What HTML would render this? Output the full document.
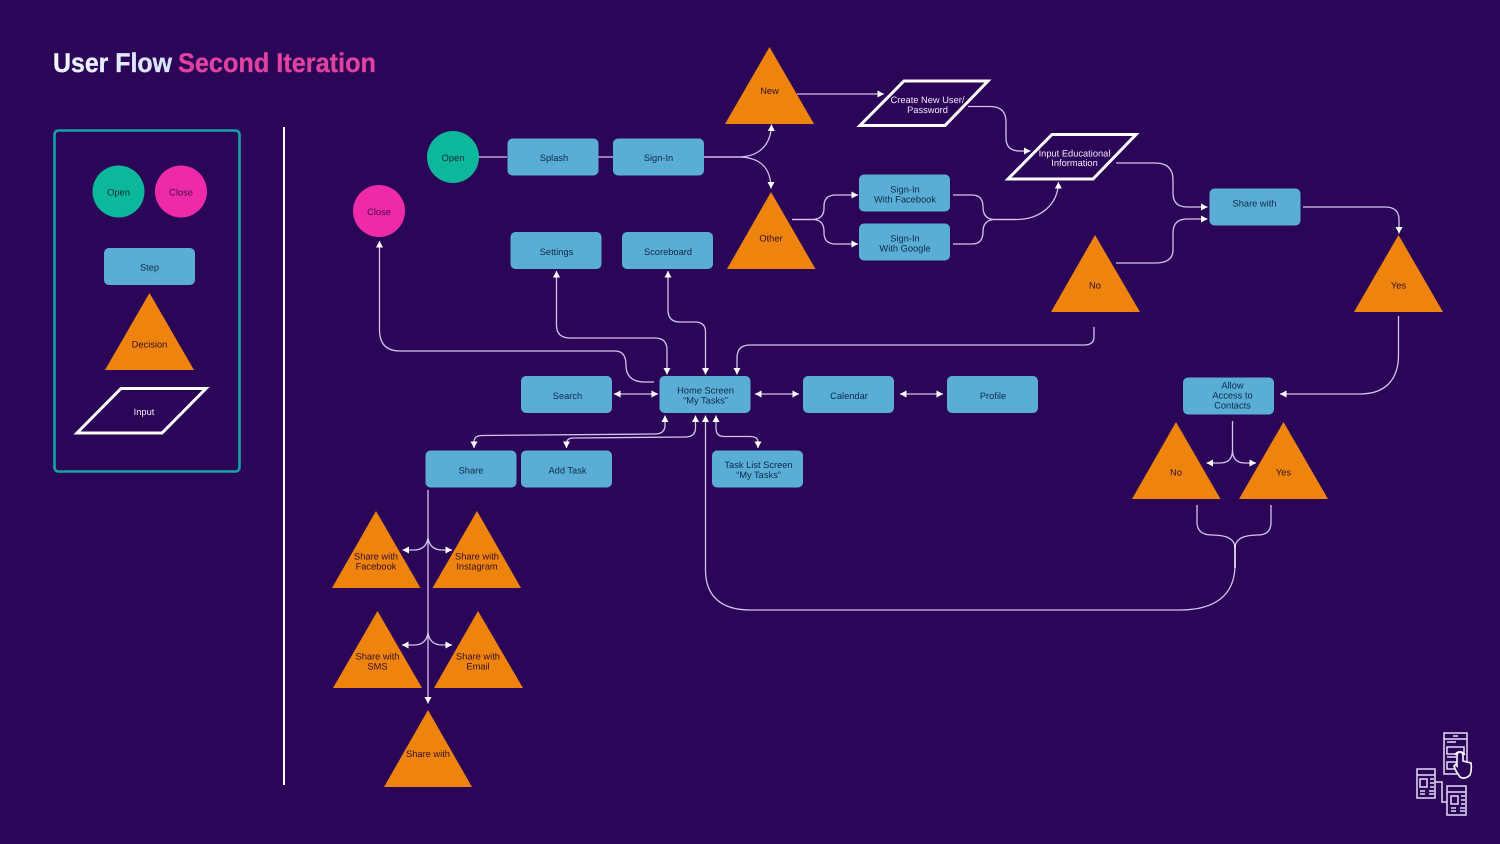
<!DOCTYPE html>
<html><head><meta charset="utf-8"><title>User Flow Second Iteration</title>
<style>
html,body{margin:0;padding:0;background:#2b0558;width:1500px;height:844px;overflow:hidden}
svg{display:block}
text{font-family:"Liberation Sans",sans-serif;font-size:9.3px;text-anchor:middle;text-rendering:geometricPrecision}
.b rect{fill:#5aaed6}
.b text{fill:#0d2a4a}
.t polygon{fill:#ee830d}
.t text{fill:#33102a}
.p polygon{fill:none;stroke:#fff;stroke-width:3}
.p text{fill:#f1e8fa}
.c{fill:none;stroke:#d5c3ee;stroke-width:1.3}
.i{fill:none;stroke:#e4dcf8;stroke-width:1.5}
</style></head><body>
<svg width="1500" height="844" viewBox="0 0 1500 844" xmlns="http://www.w3.org/2000/svg">
<defs>
<marker id="a" markerUnits="userSpaceOnUse" markerWidth="8" markerHeight="8" refX="6.500" refY="4" orient="auto-start-reverse"><path d="M0,0.500 L6.500,4 L0,7.500Z" fill="#fff"/></marker>
<linearGradient id="g" x1="0" x2="1"><stop offset="0" stop-color="#f2f6ff"/><stop offset="1" stop-color="#d4e2fb"/></linearGradient>
</defs>
<rect width="1500" height="844" fill="#2b0558"/>

<text x="53" y="72" style="font-size:27px;font-weight:700;text-anchor:start;fill:url(#g);stroke:#e8effd;stroke-width:.3" textLength="119" lengthAdjust="spacingAndGlyphs">User Flow</text>
<text x="178" y="72" style="font-size:27px;font-weight:700;text-anchor:start;fill:#e0429f;stroke:#e0429f;stroke-width:.3" textLength="198" lengthAdjust="spacingAndGlyphs">Second Iteration</text>

<rect x="54.500" y="130.500" width="185" height="341" rx="4" fill="none" stroke="#15a3a6" stroke-width="2.600"/>
<line x1="284" y1="127" x2="284" y2="785" stroke="#fff" stroke-width="2"/>

<!-- connectors -->
<g class="c">
<path d="M478,157H507M598,157H613"/>
<path d="M703,157H738C758,157 771,146 771.500,124.500" marker-end="url(#a)"/>
<path d="M703,157H738C758,157 771,166 771,188.500" marker-end="url(#a)"/>
<path d="M797,94H884" marker-end="url(#a)"/>
<path d="M968,106.500H990Q1006,106.500 1006,122V138Q1006,151 1020,151H1030.500" marker-end="url(#a)"/>
<path d="M792,219.500H812Q824,219.500 824,208V206Q824,195 836,195H858" marker-end="url(#a)"/>
<path d="M792,219.500H812Q824,219.500 824,231V233Q824,244 836,244H858" marker-end="url(#a)"/>
<path d="M953,195H972Q983,195 983,207Q983,219.500 995,219.500H1016C1040,219.500 1058,205 1058.500,182" marker-end="url(#a)"/>
<path d="M953,244H972Q983,244 983,232Q983,219.500 995,219.500H1016"/>
<path d="M1116,163H1155Q1173,163 1173,180V193Q1173,207 1187,207H1207.500" marker-end="url(#a)"/>
<path d="M1116,263H1155Q1173,263 1173,250V233Q1173,219 1187,219H1207.500" marker-end="url(#a)"/>
<path d="M1303,207H1385Q1399,207 1399,220V233.500" marker-end="url(#a)"/>
<path d="M1398.500,316V355C1398.500,380 1385,394 1360,394H1280" marker-end="url(#a)"/>
<path d="M1094,327V337Q1094,345 1084,345H750Q737,345 737,358V374.500" marker-end="url(#a)"/>
<path d="M668,271V310Q668,322 680,322H695Q705.500,322 705.500,332V374.500" marker-start="url(#a)" marker-end="url(#a)"/>
<path d="M556.500,271V325Q556.500,338 570,338H655Q667,338 667,350V374.500" marker-start="url(#a)" marker-end="url(#a)"/>
<path d="M379.500,241V330Q379.500,351 400,351H615Q626,351 626,365Q626,382 645,382H654" marker-start="url(#a)"/>
<path d="M614,394H658" marker-start="url(#a)" marker-end="url(#a)"/>
<path d="M755,394H799" marker-start="url(#a)" marker-end="url(#a)"/>
<path d="M900,394H943" marker-start="url(#a)" marker-end="url(#a)"/>
<path d="M665,415.500V425Q665,434 655,434L482,435.500Q474,435.500 474,442V448" marker-start="url(#a)" marker-end="url(#a)"/>
<path d="M695.500,415.500V428Q695.500,437 685,437L573,438Q566.500,438 566.500,444V448" marker-start="url(#a)" marker-end="url(#a)"/>
<path d="M716,415.500V428Q716,436.500 724,436.500H750Q758,436.500 758,442V448" marker-start="url(#a)" marker-end="url(#a)"/>
<path d="M705.500,415.500V570C705.500,595 720,610 750,610H1180C1215,610 1235,595 1235,565V548" marker-start="url(#a)"/>
<path d="M1197,505V522Q1197,535 1212,535C1228,535 1235,540 1235,548"/>
<path d="M1271,505V522Q1271,535 1258,535C1242,535 1235,540 1235,548"/>
<path d="M1232.500,421V450Q1232.500,463 1220,463H1206.500" marker-end="url(#a)"/>
<path d="M1232.500,450Q1232.500,463 1245,463H1256" marker-end="url(#a)"/>
<path d="M428,490V703.500" marker-end="url(#a)"/>
<path d="M428,538Q426,550 414,550H402.500" marker-end="url(#a)"/>
<path d="M428,538Q430,550 442,550H452" marker-end="url(#a)"/>
<path d="M428,633Q426,645 414,645H402" marker-end="url(#a)"/>
<path d="M428,633Q430,645 442,645H452" marker-end="url(#a)"/>
</g>
<line x1="1235" y1="545" x2="1235" y2="568" stroke="#fff" stroke-width="1.400"/>

<!-- circles -->
<g>
<circle cx="118.500" cy="191.500" r="26" fill="#0db79b"/><text x="118.500" y="195.500" fill="#0d2a3a">Open</text>
<circle cx="181" cy="191.500" r="26" fill="#ee2aa9"/><text x="181" y="195.500" fill="#4a0a4a">Close</text>
<circle cx="453" cy="157" r="26" fill="#0db79b"/><text x="453" y="161" fill="#0d2a3a">Open</text>
<circle cx="379" cy="211" r="26" fill="#ee2aa9"/><text x="379" y="215" fill="#4a0a4a">Close</text>
</g>

<!-- boxes -->
<g class="b">
<rect x="104" y="248" width="91" height="37" rx="5"/><text x="149.500" y="270.500">Step</text>
<rect x="507.500" y="138.500" width="91" height="37" rx="5"/><text x="554" y="161">Splash</text>
<rect x="613" y="138.500" width="91" height="37" rx="5"/><text x="658.500" y="161">Sign-In</text>
<rect x="510.500" y="232" width="91" height="37" rx="5"/><text x="556.500" y="255">Settings</text>
<rect x="622" y="232" width="91" height="37" rx="5"/><text x="668" y="255">Scoreboard</text>
<rect x="521" y="376" width="91" height="37" rx="5"/><text x="567.500" y="399">Search</text>
<rect x="659.500" y="376" width="91" height="37" rx="5"/><text x="705.500" y="393.500">Home Screen</text><text x="705.500" y="403.500">“My Tasks”</text>
<rect x="803" y="376" width="91" height="37" rx="5"/><text x="849" y="399">Calendar</text>
<rect x="947" y="376" width="91" height="37" rx="5"/><text x="993" y="399">Profile</text>
<rect x="425.500" y="450.500" width="91" height="37" rx="5"/><text x="471" y="473.500">Share</text>
<rect x="521" y="450.500" width="91" height="37" rx="5"/><text x="567.500" y="473.500">Add Task</text>
<rect x="712" y="450.500" width="91" height="37" rx="5"/><text x="758.500" y="468">Task List Screen</text><text x="758.500" y="478">“My Tasks”</text>
<rect x="859" y="174.500" width="91" height="37" rx="5"/><text x="905" y="192.500">Sign-In</text><text x="905" y="202.500">With Facebook</text>
<rect x="859" y="223.500" width="91" height="37" rx="5"/><text x="905" y="241.500">Sign-In</text><text x="905" y="251.500">With Google</text>
<rect x="1209.500" y="188.500" width="91" height="37" rx="5"/><text x="1254.500" y="206.500">Share with</text>
<rect x="1183" y="377.500" width="91" height="37" rx="5"/><text x="1232.500" y="388.500">Allow</text><text x="1232.500" y="398.500">Access to</text><text x="1232.500" y="408.500">Contacts</text>
</g>

<!-- triangles -->
<g class="t">
<polygon points="149.500,293 105,370 194,370"/><text x="149.500" y="347.500">Decision</text>
<polygon points="769.500,47 725,124 814,124"/><text x="769.500" y="94">New</text>
<polygon points="771,192 727,269 815.500,269"/><text x="771" y="241.500">Other</text>
<polygon points="1095,235 1051,312 1140,312"/><text x="1095" y="288.500">No</text>
<polygon points="1398.500,235 1354,312 1443,312"/><text x="1398.500" y="288.500">Yes</text>
<polygon points="1176,422 1132,499 1220.500,499"/><text x="1176" y="475.500">No</text>
<polygon points="1283.500,422 1239,499 1328,499"/><text x="1283.500" y="475.500">Yes</text>
<polygon points="376,511 332,588 420.500,588"/><text x="376" y="559.500">Share with</text><text x="376" y="569.500">Facebook</text>
<polygon points="477,511 432.500,588 521,588"/><text x="477" y="559.500">Share with</text><text x="477" y="569.500">Instagram</text>
<polygon points="377.500,611 333,688 422,688"/><text x="377.500" y="659.500">Share with</text><text x="377.500" y="669.500">SMS</text>
<polygon points="478,611 434,688 523,688"/><text x="478" y="659.500">Share with</text><text x="478" y="669.500">Email</text>
<polygon points="428,710 384,787 472,787"/><text x="428" y="757">Share with</text>
</g>

<!-- parallelograms -->
<g class="p">
<polygon points="121,388.500 206,388.500 162,433 77,433"/><text x="144" y="415">Input</text>
<polygon points="904,81 988,81 945,125.500 860,125.500"/><text x="927.500" y="103">Create New User/</text><text x="927.500" y="113">Password</text>
<polygon points="1052,134.500 1136,134.500 1093,179 1008,179"/><text x="1074.500" y="156.500">Input Educational</text><text x="1074.500" y="166">Information</text>
</g>

<!-- icon -->
<g class="i">
<path d="M1444,733H1467V774H1444Z"/><path d="M1444,739H1467M1453,736H1458"/>
<path d="M1447,742H1456M1447,747H1464V754H1447ZM1447,757H1456M1447,762H1456V769H1447Z"/>
<path d="M1456,771L1454,766Q1455,764 1457,766V756Q1457,752 1460,752Q1463,752 1463,756V761L1471,763Q1472,770 1470,775Q1465,780 1460,777Z" fill="#2b0558" stroke="#f4f0fc" stroke-width="1.700"/>
<path d="M1455,755A5.500,5.500 0 0 1 1465,755" stroke="#f4f0fc"/>
<path d="M1417,769H1435V798H1417ZM1417,775H1435M1420,779H1427V787H1420ZM1430,779H1434M1430,783H1434M1430,787H1434M1420,791H1425M1429,791H1434M1420,794H1425M1429,794H1434"/>
<path d="M1435,782H1442V802H1447"/>
<path d="M1447,786H1466V815H1447ZM1447,792H1466M1451,796H1458V804H1451ZM1461,796H1465M1461,800H1465M1461,804H1465M1451,808H1456M1460,808H1465M1451,811H1456M1460,811H1465"/>
</g>
</svg>
</body></html>
